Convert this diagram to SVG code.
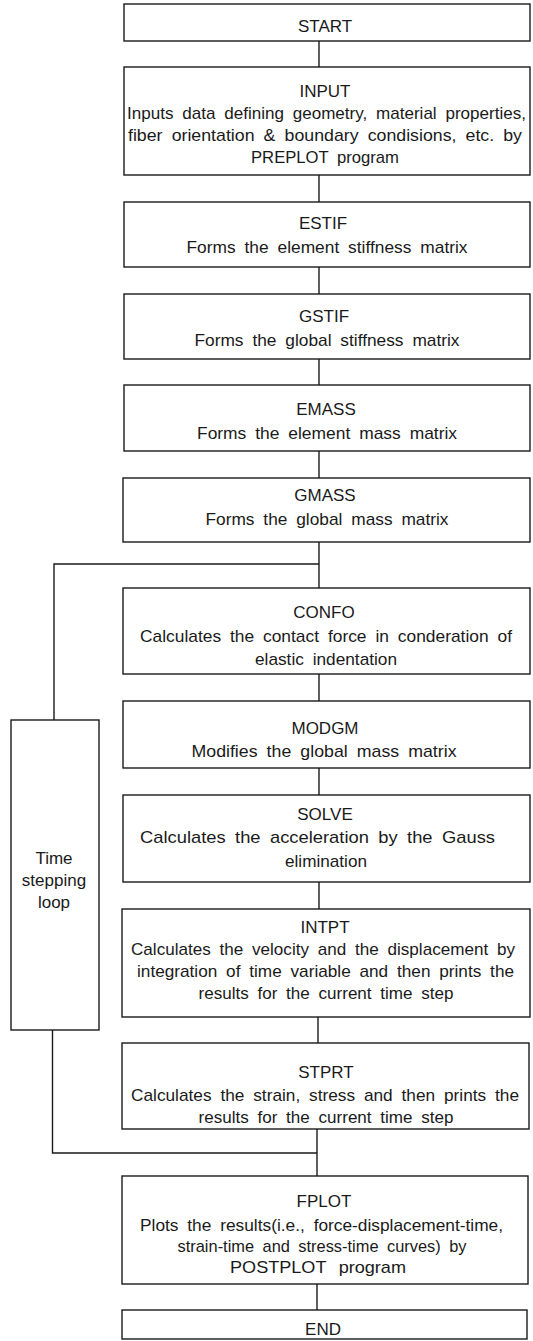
<svg xmlns="http://www.w3.org/2000/svg" width="533" height="1341" viewBox="0 0 533 1341">
<style>
.box{fill:#fff;stroke:#1a1a1a;stroke-width:1.4}
.ln{fill:none;stroke:#1a1a1a;stroke-width:1.4}
text{font-family:"Liberation Sans",Arial,sans-serif;font-size:17px;fill:#1a1a1a;word-spacing:4px}
.c{text-anchor:middle}
</style>
<rect width="533" height="1341" fill="#fff"/>
<g id="connectors">
<line class="ln" x1="319" y1="41" x2="319" y2="67"/>
<line class="ln" x1="319" y1="175" x2="319" y2="202"/>
<line class="ln" x1="319" y1="267" x2="319" y2="294"/>
<line class="ln" x1="319" y1="359" x2="319" y2="385"/>
<line class="ln" x1="319" y1="451" x2="319" y2="478"/>
<line class="ln" x1="319" y1="542" x2="319" y2="588"/>
<line class="ln" x1="319" y1="674" x2="319" y2="701"/>
<line class="ln" x1="319" y1="768" x2="319" y2="795"/>
<line class="ln" x1="319" y1="882" x2="319" y2="909"/>
<line class="ln" x1="318" y1="1017" x2="318" y2="1043"/>
<line class="ln" x1="317" y1="1129" x2="317" y2="1176"/>
<line class="ln" x1="317" y1="1284" x2="317" y2="1310"/>
<polyline class="ln" points="319,564 54,564 54,720"/>
<polyline class="ln" points="52.5,1030 52.5,1153 317,1153"/>
</g>
<g id="start">
<rect class="box" x="124" y="4" width="406" height="37"/>
<text class="c" x="325" y="32">START</text>
</g>
<g id="input">
<rect class="box" x="124" y="67" width="406" height="108"/>
<text class="c" x="325" y="97">INPUT</text>
<text x="127" y="119" textLength="399" lengthAdjust="spacingAndGlyphs">Inputs data defining geometry, material properties,</text>
<text x="128" y="141" textLength="394" lengthAdjust="spacingAndGlyphs">fiber orientation &amp; boundary condisions, etc. by</text>
<text class="c" x="325" y="163" textLength="148" lengthAdjust="spacingAndGlyphs">PREPLOT program</text>
</g>
<g id="estif">
<rect class="box" x="124" y="202" width="406" height="65"/>
<text class="c" x="323" y="229">ESTIF</text>
<text class="c" x="327" y="253" textLength="281" lengthAdjust="spacingAndGlyphs">Forms the element stiffness matrix</text>
</g>
<g id="gstif">
<rect class="box" x="124" y="294" width="406" height="65"/>
<text class="c" x="324" y="322">GSTIF</text>
<text class="c" x="327" y="346" textLength="265" lengthAdjust="spacingAndGlyphs">Forms the global stiffness matrix</text>
</g>
<g id="emass">
<rect class="box" x="124" y="385" width="406" height="66"/>
<text class="c" x="326" y="415">EMASS</text>
<text class="c" x="327" y="439" textLength="260" lengthAdjust="spacingAndGlyphs">Forms the element mass matrix</text>
</g>
<g id="gmass">
<rect class="box" x="123" y="478" width="407" height="64"/>
<text class="c" x="325" y="501">GMASS</text>
<text class="c" x="327" y="525" textLength="243" lengthAdjust="spacingAndGlyphs">Forms the global mass matrix</text>
</g>
<g id="confo">
<rect class="box" x="123" y="588" width="407" height="86"/>
<text class="c" x="324" y="618">CONFO</text>
<text x="140" y="642" textLength="372" lengthAdjust="spacingAndGlyphs">Calculates the contact force in conderation of</text>
<text class="c" x="326" y="665" textLength="142" lengthAdjust="spacingAndGlyphs">elastic indentation</text>
</g>
<g id="modgm">
<rect class="box" x="123" y="701" width="407" height="67"/>
<text class="c" x="325" y="734">MODGM</text>
<text class="c" x="324" y="757" textLength="265" lengthAdjust="spacingAndGlyphs">Modifies the global mass matrix</text>
</g>
<g id="solve">
<rect class="box" x="123" y="795" width="407" height="87"/>
<text class="c" x="325" y="820">SOLVE</text>
<text x="140" y="843" textLength="355" lengthAdjust="spacingAndGlyphs">Calculates the acceleration by the Gauss</text>
<text class="c" x="326" y="867" textLength="82" lengthAdjust="spacingAndGlyphs">elimination</text>
</g>
<g id="intpt">
<rect class="box" x="122" y="909" width="408" height="108"/>
<text class="c" x="325" y="933">INTPT</text>
<text x="131" y="955" textLength="384" lengthAdjust="spacingAndGlyphs">Calculates the velocity and the displacement by</text>
<text x="137" y="977" textLength="377" lengthAdjust="spacingAndGlyphs">integration of time variable and then prints the</text>
<text class="c" x="326" y="999" textLength="255" lengthAdjust="spacingAndGlyphs">results for the current time step</text>
</g>
<g id="stprt">
<rect class="box" x="122" y="1043" width="407" height="86"/>
<text class="c" x="326" y="1078">STPRT</text>
<text x="131" y="1101" textLength="388" lengthAdjust="spacingAndGlyphs">Calculates the strain, stress and then prints the</text>
<text class="c" x="326" y="1123" textLength="255" lengthAdjust="spacingAndGlyphs">results for the current time step</text>
</g>
<g id="loop">
<rect class="box" x="11" y="720" width="88" height="310"/>
<text class="c" x="54" y="864">Time</text>
<text class="c" x="54" y="886">stepping</text>
<text class="c" x="54" y="908">loop</text>
</g>
<g id="fplot">
<rect class="box" x="122" y="1176" width="406" height="108"/>
<text class="c" x="324" y="1207">FPLOT</text>
<text x="140" y="1231" textLength="363" lengthAdjust="spacingAndGlyphs">Plots the results(i.e., force-displacement-time,</text>
<text class="c" x="322" y="1252" textLength="289" lengthAdjust="spacingAndGlyphs">strain-time and stress-time curves) by</text>
<text class="c" x="318" y="1273" textLength="176" lengthAdjust="spacingAndGlyphs" style="word-spacing:7px">POSTPLOT program</text>
</g>
<g id="end">
<rect class="box" x="122" y="1310" width="405" height="29"/>
<text class="c" x="323" y="1335">END</text>
</g>
</svg>
